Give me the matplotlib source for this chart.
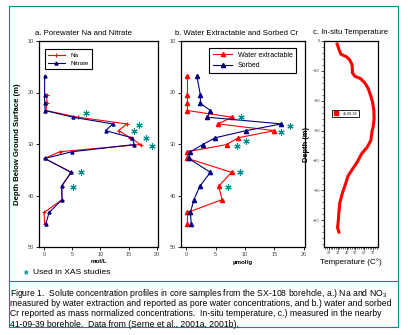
import numpy as np
import matplotlib
matplotlib.use("Agg")
import matplotlib.pyplot as plt
from matplotlib.patches import Rectangle
from matplotlib.lines import Line2D

plt.rcParams['font.family'] = ['Liberation Sans', 'DejaVu Sans']
plt.rcParams['mathtext.fontset'] = 'custom'
plt.rcParams['mathtext.rm'] = 'Liberation Sans'
plt.rcParams['mathtext.it'] = 'Liberation Sans'

# ---------------- data ----------------
depth = [16.8, 20.5, 22.1, 23.5, 24.8, 26.1, 27.4, 28.8, 30.1, 31.5, 32.8,
         35.5, 38.2, 40.8, 43.3, 45.5]
na = [np.nan, 0.5, 0.5, 0.3, 6.0, 14.7, 13.2, 15.3, 17.1, 2.8, 0.1,
      4.8, 3.1, 3.2, 0.0, 0.1]
nitrate = [0.1, 0.1, 0.1, 0.2, 5.1, 12.2, 10.9, 15.6, 16.0, 5.0, 0.1,
           4.8, 3.1, 3.2, 0.9, 0.3]
water_cr = [0.2, 0.2, 0.2, 0.2, 7.8, 5.4, 15.0, 8.8, 6.9, 0.2, 0.2,
            7.7, 5.5, 6.1, 0.2, 0.2]
sorbed_cr = [1.8, 2.4, 2.4, 4.1, 3.6, 16.2, 10.2, 4.9, 2.8, 0.7, 0.4,
             4.1, 2.3, 1.3, 0.7, 0.85]

xas_a_x = [7.4, 16.9, 15.9, 18.1, 19.1, 6.5, 5.1]
xas_a_d = [23.9, 26.3, 27.5, 28.9, 30.4, 35.5, 38.4]
xas_b_x = [9.3, 17.6, 16.2, 10.1, 8.6, 9.1, 7.1]
xas_b_d = [24.8, 26.5, 27.6, 29.4, 30.4, 35.5, 38.4]

temp_c = [29.4, 31.6, 33.5, 40.0, 43.7, 46.3, 46.7, 49.3, 55.8, 60.6, 64.4,
          67.1, 69.3, 70.8, 71.1, 70.0, 68.9, 67.4, 63.2, 56.9, 51.9, 46.7,
          41.8, 38.8, 35.5, 32.4, 31.3, 30.5, 29.8, 31.3]
depth_c = [-1.0, -3.0, -4.4, -5.3, -6.4, -8.1, -10.7, -11.8, -12.6, -14.0,
           -15.9, -18.2, -20.4, -23.2, -26.0, -28.9, -30.0, -33.3, -35.6,
           -37.8, -40.6, -42.9, -45.1, -47.9, -50.7, -54.1, -57.5, -60.8,
           -62.5, -64.0]

xticks_ab = [0, 5, 10, 15, 20]
yticks_ab = [10, 20, 30, 40, 50]
xticks_c = [20, 30, 40, 50, 60, 70]
yticks_c = [0, -10, -20, -30, -40, -50, -60]

RED = '#FF0000'
NAVY = '#000080'
TEAL = '#008B8B'

W, H = 408, 335
fig = plt.figure(figsize=(W / 100, H / 100), dpi=100)


def fr(l, r, t, b):
    return [l / W, 1 - b / H, (r - l) / W, (b - t) / H]


axa = fig.add_axes(fr(39, 158, 41, 247))
axb = fig.add_axes(fr(181, 305, 41, 247))
axc = fig.add_axes(fr(324, 378, 41, 247))

for ax in (axa, axb, axc):
    for s in ax.spines.values():
        s.set_linewidth(0.9)
        s.set_color('black')

for ax in (axa, axb):
    ax.set_ylim(50, 10)
    ax.set_xlim(-0.9, 20.2)
    ax.set_xticks(xticks_ab)
    ax.set_yticks(yticks_ab)
    ax.tick_params(labelsize=4, length=2, width=0.6, pad=1.5,
                   labelcolor='#444444')

# panel a
axa.plot(na, depth, color=RED, lw=0.8, marker='+', ms=3, mew=0.8, label='Na')
axa.plot(nitrate, depth, color=NAVY, lw=0.8, marker='^', ms=2.2,
         mfc=NAVY, mec=NAVY, label='Nitrate')
axa.plot(xas_a_x, xas_a_d, ls='none', marker=(6, 2, 0), ms=4.5, mew=0.8,
         color=TEAL)
axa.legend(loc='upper left', bbox_to_anchor=(0.02, 0.975), fontsize=4.5,
           frameon=True, fancybox=False, edgecolor='black', framealpha=1,
           handlelength=2.8, borderpad=0.5, labelspacing=0.5,
           handletextpad=0.8).get_frame().set_linewidth(0.8)
axa.text(-0.03, 1.02, 'a. Porewater Na and Nitrate', transform=axa.transAxes,
         ha='left', va='bottom', fontsize=5.6)
axa.set_ylabel('Depth Below Ground Surface (m)', fontsize=5.6,
               fontweight='bold')
axa.yaxis.set_label_coords(-0.155, 0.5)
axa.set_xlabel('mol/L', fontsize=4.5, fontweight='bold', labelpad=1.5)

# panel b
axb.plot(water_cr, depth, color=RED, lw=0.8, marker='^', ms=3,
         label='Water extractable')
axb.plot(sorbed_cr, depth, color=NAVY, lw=0.8, marker='^', ms=3,
         label='Sorbed')
axb.plot(xas_b_x, xas_b_d, ls='none', marker=(6, 2, 0), ms=4.5, mew=0.8,
         color=TEAL)
axb.legend(loc='upper right', bbox_to_anchor=(0.957, 0.982), fontsize=5,
           frameon=True, fancybox=False, edgecolor='black', framealpha=1,
           handlelength=2.8, borderpad=0.5, labelspacing=0.5,
           handletextpad=0.8).get_frame().set_linewidth(0.8)
axb.text(-0.05, 1.02, 'b. Water Extractable and Sorbed Cr',
         transform=axb.transAxes, ha='left', va='bottom', fontsize=5.6)
axb.set_xlabel('µmol/g', fontsize=4.5, fontweight='bold', labelpad=2.5)

# panel c
axc.plot(temp_c, depth_c, color=RED, lw=2.2, label='41-09-39')
axc.set_xlim(14.5, 75.5)
axc.set_ylim(-69, 0)
axc.set_xticks(xticks_c)
axc.set_yticks(yticks_c)
axc.set_xticks(np.arange(16, 76, 2), minor=True)
axc.set_yticks(np.arange(-68, 0, 2), minor=True)
axc.tick_params(labelsize=2.8, length=2, width=0.5, pad=1,
                labelcolor='#444444')
axc.tick_params(which='minor', length=1.2, width=0.4)
lc = axc.legend(handles=[Line2D([], [], color=RED, marker='s', ls='none',
                                ms=2.5)],
                labels=['41-09-39'], loc='center left',
                bbox_to_anchor=(0.12, 0.647), fontsize=2.6, frameon=True,
                fancybox=False, edgecolor='black', framealpha=1,
                handlelength=1, borderpad=0.4, handletextpad=1.5)
lc.get_frame().set_linewidth(0.6)
axc.text(0.5, 1.025, 'c. In-situ Temperature', transform=axc.transAxes,
         ha='center', va='bottom', fontsize=5.6)
axc.set_ylabel('Depth (m)', fontsize=5.4, fontweight='bold')
axc.yaxis.set_label_coords(-0.26, 0.5)
axc.set_xlabel('Temperature (C°)', fontsize=5.8, labelpad=2)

# figure frame and notes
fig.patches.append(Rectangle((9.3 / W, 1 - 327 / H), (397.7 - 9.3) / W,
                             (327 - 6) / H, transform=fig.transFigure,
                             fill=False, edgecolor=TEAL, lw=0.8))
fig.lines.append(Line2D([9.3 / W, 397.7 / W], [1 - 281 / H, 1 - 281 / H],
                        transform=fig.transFigure, color=TEAL, lw=0.8))
fig.text(24 / W, 1 - 275 / H, '*', color=TEAL, fontsize=8.5, ha='left',
         va='center', fontweight='bold')
fig.text(33 / W, 1 - 273 / H, 'Used in XAS studies', fontsize=6.1, ha='left',
         va='center')

caption = [
    'Figure 1.  Solute concentration profiles in core samples from the SX-108 borehole, a.) Na and NO$_3$',
    'measured by water extraction and reported as pore water concentrations, and b.) water and sorbed',
    'Cr reported as mass normalized concentrations.  In-situ temperature, c.) measured in the nearby',
    '41-09-39 borehole.  Data from (Serne et al., 2001a, 2001b).',
]
for i, line in enumerate(caption):
    fig.text(10 / W, 1 - (293.3 + 10.35 * i) / H, line, fontsize=6.25,
             ha='left', va='center')

fig.savefig('out.png', dpi=100)
